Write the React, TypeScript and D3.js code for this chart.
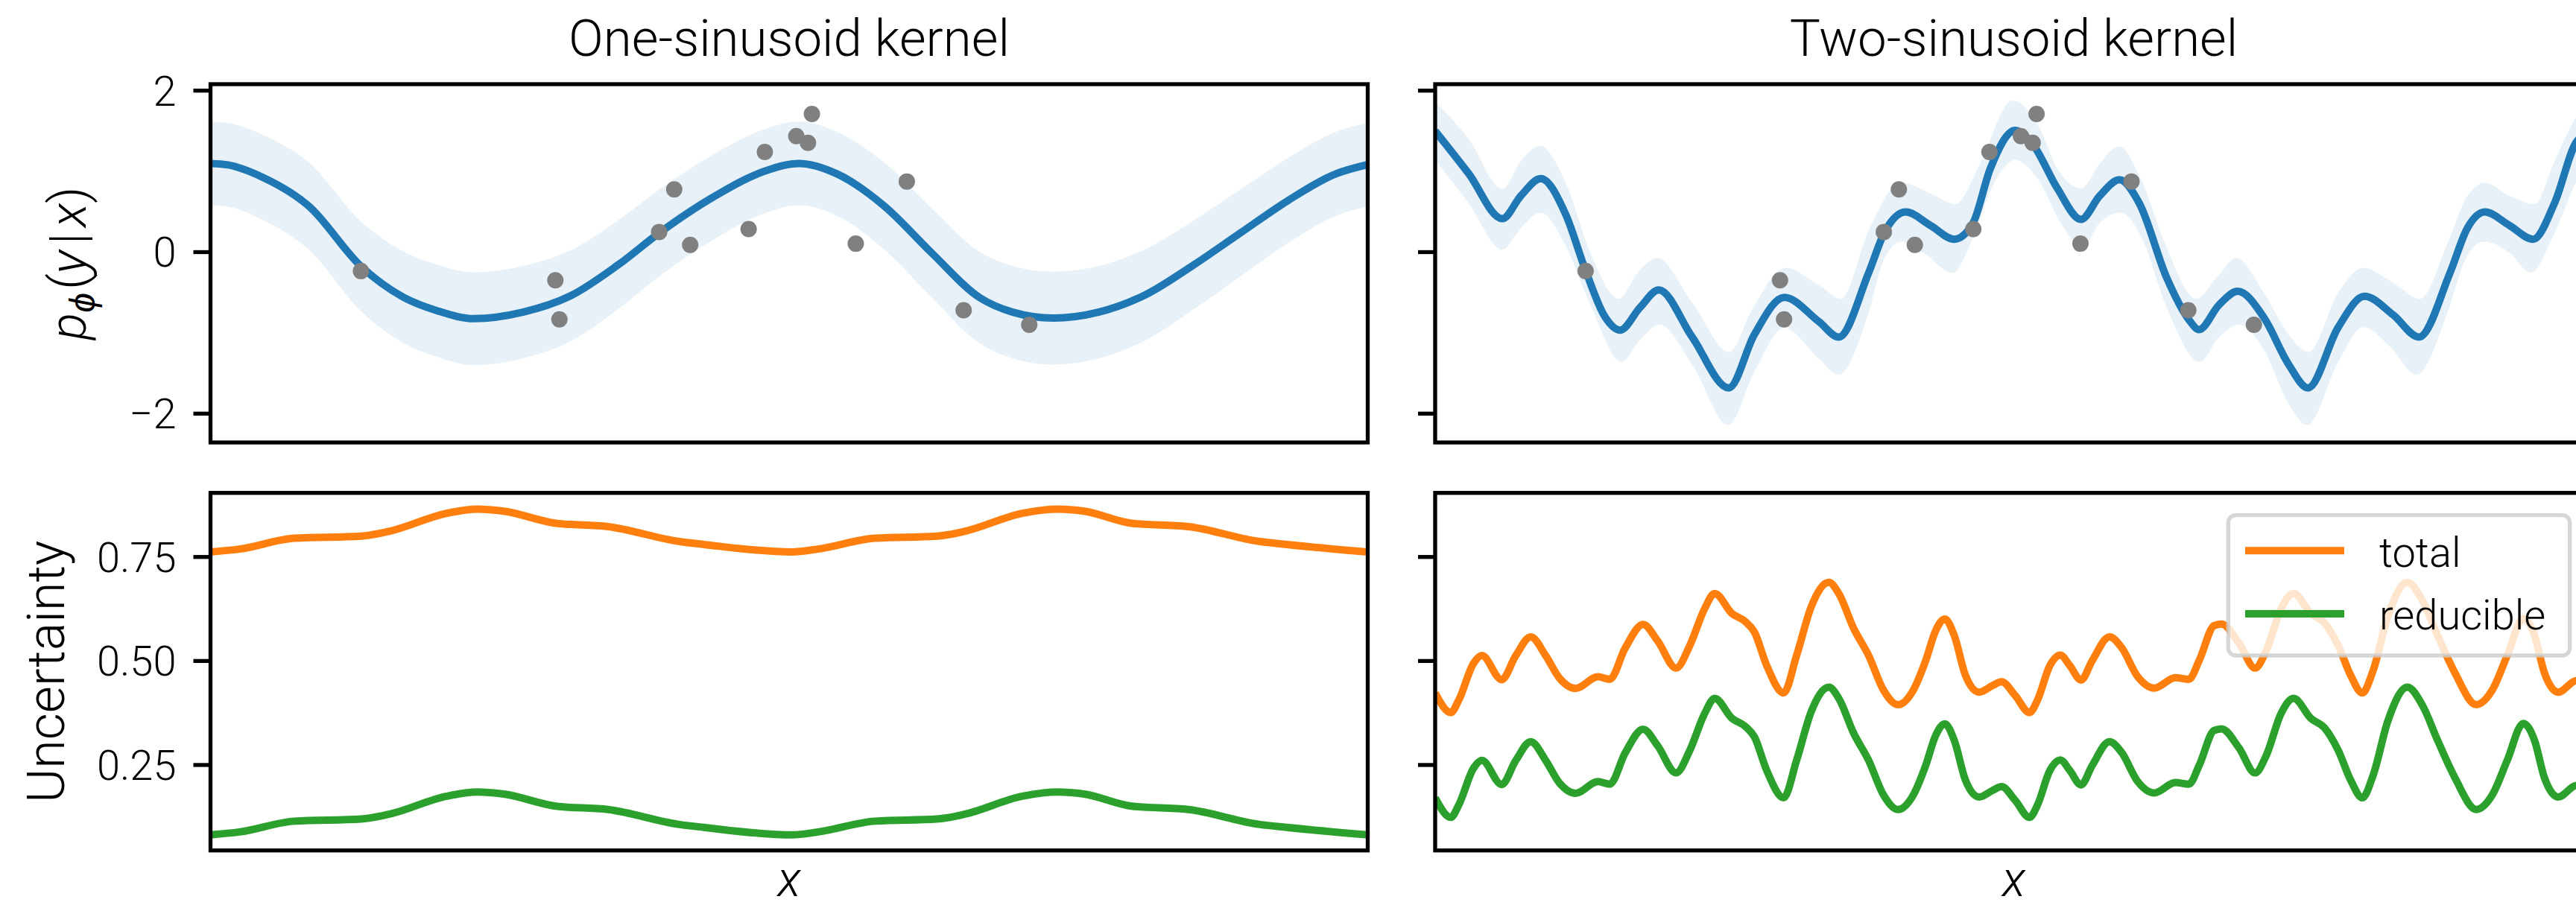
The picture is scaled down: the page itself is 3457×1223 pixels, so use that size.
import React from "react";
import * as d3 from "d3";

const W = 3457;
const H = 1223;

const titles = ["One-sinusoid kernel", "Two-sinusoid kernel"];
const topTicks = [-2, 0, 2];
const topTickLabels = ["\u22122", "0", "2"];
const bottomTicks = [0.25, 0.5, 0.75];
const bottomTickLabels = ["0.25", "0.50", "0.75"];
const legendLabels = ["total", "reducible"];

// observed points (same in both columns)
const obsX = [1.3, 2.98, 3.015, 3.877, 4.007, 4.145, 4.65, 4.79, 5.062, 5.163, 5.197, 5.576, 6.017, 6.508, 7.075];
const obsY = [-0.234, -0.349, -0.833, 0.25, 0.777, 0.09, 0.285, 1.24, 1.436, 1.353, 1.711, 0.105, 0.875, -0.72, -0.9];

// one-sinusoid kernel: posterior mean and band
const oneX = [0, 0.151, 0.44, 0.85, 1.302, 1.671, 1.959, 2.275, 2.698, 3.109, 3.519, 3.881, 4.341, 4.798, 5.085, 5.413, 5.824, 6.235, 6.645, 6.933, 7.282, 7.672, 8.083, 8.493, 8.903, 9.314, 9.725, 10];
const oneMean = [1.098, 1.08, 0.934, 0.569, -0.178, -0.562, -0.726, -0.824, -0.744, -0.543, -0.161, 0.241, 0.679, 1.007, 1.098, 0.97, 0.569, -0.014, -0.562, -0.744, -0.817, -0.744, -0.525, -0.161, 0.241, 0.642, 0.97, 1.085];
const oneUpper = [1.616, 1.598, 1.459, 1.109, 0.378, 0.004, -0.154, -0.249, -0.172, 0.02, 0.389, 0.779, 1.206, 1.527, 1.616, 1.49, 1.109, 0.539, 0.004, -0.172, -0.242, -0.172, 0.038, 0.389, 0.779, 1.169, 1.49, 1.603];
const oneLower = [0.58, 0.562, 0.409, 0.029, -0.734, -1.128, -1.298, -1.399, -1.316, -1.106, -0.711, -0.297, 0.152, 0.487, 0.58, 0.45, 0.029, -0.567, -1.128, -1.316, -1.392, -1.316, -1.088, -0.711, -0.297, 0.115, 0.45, 0.567];

// two-sinusoid kernel: posterior mean and band
const twoMeanX = [0, 0.29, 0.58, 0.74, 0.912, 1.127, 1.299, 1.47, 1.599, 1.771, 1.932, 2.221, 2.537, 2.758, 3.016, 3.316, 3.488, 3.746, 3.885, 4.067, 4.282, 4.486, 4.647, 4.797, 5.012, 5.162, 5.377, 5.581, 5.742, 5.913, 6.085, 6.321, 6.515, 6.6, 6.774, 6.935, 7.16, 7.375, 7.542, 7.804, 8.03, 8.277, 8.502, 8.77, 8.92, 9.071, 9.285, 9.489, 9.672, 9.865, 10];
const twoMean = [1.5, 0.972, 0.414, 0.696, 0.911, 0.47, -0.224, -0.807, -0.966, -0.684, -0.469, -1.052, -1.681, -1.021, -0.561, -0.86, -1.052, -0.255, 0.252, 0.497, 0.328, 0.16, 0.359, 1.034, 1.509, 1.34, 0.788, 0.405, 0.696, 0.896, 0.604, -0.316, -0.84, -0.96, -0.653, -0.485, -0.807, -1.39, -1.681, -0.929, -0.546, -0.776, -1.052, -0.255, 0.298, 0.497, 0.328, 0.16, 0.604, 1.371, 1.5];
const twoUpperX = [0, 0.29, 0.58, 0.74, 0.906, 1.127, 1.341, 1.588, 1.749, 1.917, 2.221, 2.543, 2.737, 3.026, 3.316, 3.509, 3.746, 4.024, 4.282, 4.497, 4.69, 4.99, 5.205, 5.377, 5.581, 5.742, 5.909, 6.106, 6.321, 6.575, 6.753, 6.924, 7.16, 7.375, 7.547, 7.804, 8.019, 8.277, 8.513, 8.749, 8.92, 9.071, 9.285, 9.5, 9.672, 9.865, 10];
const twoUpper = [1.862, 1.402, 0.782, 1.126, 1.316, 0.86, -0.009, -0.577, -0.255, -0.071, -0.623, -1.236, -0.715, -0.193, -0.408, -0.577, 0.267, 0.859, 0.727, 0.595, 1.034, 1.877, 1.586, 1.034, 0.788, 1.095, 1.31, 0.88, 0.052, -0.577, -0.316, -0.071, -0.5, -1.021, -1.236, -0.5, -0.193, -0.377, -0.577, 0.113, 0.696, 0.859, 0.696, 0.595, 1.126, 1.678, 1.862];
const twoLowerX = [0, 0.29, 0.58, 0.74, 0.912, 1.127, 1.341, 1.61, 1.771, 1.938, 2.221, 2.533, 2.758, 3.016, 3.316, 3.484, 3.746, 3.874, 4.024, 4.218, 4.471, 4.647, 4.818, 5.012, 5.205, 5.42, 5.591, 5.742, 5.924, 6.106, 6.321, 6.606, 6.774, 6.946, 7.16, 7.375, 7.536, 7.804, 8.019, 8.255, 8.48, 8.749, 8.899, 9.06, 9.285, 9.467, 9.672, 9.865, 10];
const twoLower = [1.141, 0.604, 0.028, 0.298, 0.488, 0.08, -0.653, -1.359, -1.083, -0.899, -1.39, -2.141, -1.482, -0.936, -1.32, -1.518, -0.745, -0.101, 0.129, -0.009, -0.255, 0.175, 0.819, 1.141, 0.911, 0.328, 0.052, 0.359, 0.488, 0.175, -0.684, -1.359, -1.052, -0.899, -1.206, -1.88, -2.141, -1.359, -0.929, -1.175, -1.518, -0.745, -0.101, 0.129, -0.009, -0.255, 0.236, 0.88, 1.141];

// uncertainty, one-sinusoid
const oneUncX = [0, 0.25, 0.727, 1.302, 1.549, 2.041, 2.308, 2.534, 2.986, 3.437, 4.053, 4.263, 5.023, 5.25, 5.742, 6.275, 6.522, 7.015, 7.323, 7.55, 7.96, 8.451, 9.068, 9.3, 10];
const oneTotal = [0.762, 0.769, 0.795, 0.8, 0.812, 0.855, 0.865, 0.86, 0.831, 0.823, 0.787, 0.78, 0.762, 0.769, 0.795, 0.8, 0.812, 0.855, 0.865, 0.86, 0.831, 0.823, 0.787, 0.78, 0.762];
const oneReducible = [0.082, 0.089, 0.115, 0.12, 0.132, 0.175, 0.185, 0.18, 0.151, 0.143, 0.107, 0.1, 0.082, 0.089, 0.115, 0.12, 0.132, 0.175, 0.185, 0.18, 0.151, 0.143, 0.107, 0.1, 0.082];

// uncertainty, two-sinusoid
const twoUncX = [0, 0.135, 0.204, 0.333, 0.404, 0.575, 0.697, 0.826, 0.955, 1.073, 1.213, 1.406, 1.509, 1.642, 1.797, 1.921, 2.082, 2.2, 2.329, 2.415, 2.565, 2.683, 2.758, 2.865, 3.011, 3.123, 3.252, 3.402, 3.488, 3.617, 3.746, 3.874, 3.999, 4.132, 4.239, 4.325, 4.404, 4.486, 4.583, 4.701, 4.818, 4.894, 5.012, 5.136, 5.205, 5.312, 5.402, 5.484, 5.581, 5.678, 5.827, 5.935, 6.064, 6.214, 6.396, 6.514, 6.602, 6.731, 6.795, 6.946, 7.085, 7.182, 7.31, 7.418, 7.568, 7.686, 7.804, 7.912, 8.012, 8.105, 8.234, 8.401, 8.534, 8.663, 8.813, 8.996, 9.135, 9.264, 9.403, 9.5, 9.586, 9.704, 9.865, 10];
const twoTotal = [0.423, 0.376, 0.406, 0.495, 0.513, 0.455, 0.513, 0.558, 0.513, 0.459, 0.434, 0.462, 0.456, 0.531, 0.588, 0.549, 0.483, 0.537, 0.626, 0.662, 0.614, 0.594, 0.57, 0.489, 0.423, 0.513, 0.632, 0.689, 0.662, 0.578, 0.513, 0.43, 0.395, 0.43, 0.501, 0.573, 0.601, 0.561, 0.465, 0.425, 0.441, 0.45, 0.417, 0.376, 0.406, 0.489, 0.514, 0.489, 0.454, 0.501, 0.558, 0.531, 0.465, 0.435, 0.46, 0.456, 0.501, 0.585, 0.589, 0.543, 0.483, 0.525, 0.626, 0.662, 0.614, 0.591, 0.537, 0.465, 0.423, 0.477, 0.609, 0.689, 0.644, 0.561, 0.471, 0.395, 0.43, 0.513, 0.602, 0.561, 0.471, 0.425, 0.453, 0.42];
const twoReducible = [0.171, 0.124, 0.154, 0.243, 0.261, 0.203, 0.261, 0.306, 0.261, 0.207, 0.182, 0.21, 0.204, 0.279, 0.336, 0.297, 0.231, 0.285, 0.374, 0.41, 0.362, 0.342, 0.318, 0.237, 0.171, 0.261, 0.38, 0.437, 0.41, 0.326, 0.261, 0.178, 0.143, 0.178, 0.249, 0.321, 0.349, 0.309, 0.213, 0.173, 0.189, 0.198, 0.165, 0.124, 0.154, 0.237, 0.262, 0.237, 0.202, 0.249, 0.306, 0.279, 0.213, 0.183, 0.208, 0.204, 0.249, 0.333, 0.337, 0.291, 0.231, 0.273, 0.374, 0.41, 0.362, 0.339, 0.285, 0.213, 0.171, 0.225, 0.357, 0.437, 0.392, 0.309, 0.219, 0.143, 0.178, 0.261, 0.35, 0.309, 0.219, 0.173, 0.201, 0.168];

const BLUE = "#1f77b4";
const ORANGE = "#ff7f0e";
const GREEN = "#2ca02c";
const FONT = "Roboto, sans-serif";

const colLeft = [282.5, 1926];
const colWidth = 1553;
const topRow = { top: 113, bottom: 594 };
const botRow = { top: 661.7, bottom: 1141.7 };
const LW = 5.3;
const TICK = 23;

const yTop = d3.scaleLinear().domain([-2.357, 2.08]).range([topRow.bottom, topRow.top]);
const yBot = d3.scaleLinear().domain([0.0446, 0.904]).range([botRow.bottom, botRow.top]);

const mkLine = (sx: any, sy: any) =>
  d3
    .line<[number, number]>()
    .x((d) => sx(d[0]))
    .y((d) => sy(d[1]))
    .curve(d3.curveMonotoneX);

// closed band: upper edge left->right, lower edge right->left
function bandPath(sx: any, sy: any, xu: number[], yu: number[], xl: number[], yl: number[]) {
  const line = mkLine(sx, sy);
  const up = line(d3.zip(xu, yu) as [number, number][]) || "";
  const lo = line((d3.zip(xl, yl) as [number, number][]).reverse()) || "";
  return up + "L" + lo.slice(1) + "Z";
}

function Frame({ left, row, ticks, sy }: any) {
  return (
    <g>
      <rect x={left} y={row.top} width={colWidth} height={row.bottom - row.top} fill="none" stroke="#000" strokeWidth={LW} />
      {ticks.map((t: number) => (
        <line key={t} x1={left - TICK} x2={left} y1={sy(t)} y2={sy(t)} stroke="#000" strokeWidth={LW} />
      ))}
    </g>
  );
}

export default function App() {
  document.body.style.margin = "0";
  document.body.style.overflow = "hidden";

  const posterior = [
    { mx: oneX, my: oneMean, ux: oneX, uy: oneUpper, lx: oneX, ly: oneLower },
    { mx: twoMeanX, my: twoMean, ux: twoUpperX, uy: twoUpper, lx: twoLowerX, ly: twoLower },
  ];
  const uncertainty = [
    { x: oneUncX, total: oneTotal, red: oneReducible },
    { x: twoUncX, total: twoTotal, red: twoReducible },
  ];

  return (
    <svg width={W} height={H} style={{ position: "absolute", left: 0, top: 0, display: "block", background: "#fff" }} fontFamily={FONT} fontWeight={300}>
      <defs>
        {colLeft.map((l, i) => (
          <React.Fragment key={i}>
            <clipPath id={`clipT${i}`}>
              <rect x={l} y={topRow.top} width={colWidth} height={topRow.bottom - topRow.top} />
            </clipPath>
            <clipPath id={`clipB${i}`}>
              <rect x={l} y={botRow.top} width={colWidth} height={botRow.bottom - botRow.top} />
            </clipPath>
          </React.Fragment>
        ))}
      </defs>

      {colLeft.map((left, i) => {
        const sx = d3.scaleLinear().domain([0, 10]).range([left, left + colWidth]);
        const p = posterior[i];
        const u = uncertainty[i];
        const cx = left + colWidth / 2;
        const lineT = mkLine(sx, yTop);
        const lineB = mkLine(sx, yBot);
        return (
          <g key={i}>
            <text x={cx} y={75} textAnchor="middle" fontSize={69}>
              {titles[i]}
            </text>

            <g clipPath={`url(#clipT${i})`}>
              <path d={bandPath(sx, yTop, p.ux, p.uy, p.lx, p.ly)} fill={BLUE} fillOpacity={0.1} stroke="none" />
              <path d={lineT(d3.zip(p.mx, p.my) as [number, number][]) || ""} fill="none" stroke={BLUE} strokeWidth={10} />
              {obsX.map((x, k) => (
                <circle key={k} cx={sx(x)} cy={yTop(obsY[k])} r={11} fill="#808080" />
              ))}
            </g>
            <Frame left={left} row={topRow} ticks={topTicks} sy={yTop} />

            <g clipPath={`url(#clipB${i})`}>
              <path d={lineB(d3.zip(u.x, u.total) as [number, number][]) || ""} fill="none" stroke={ORANGE} strokeWidth={10} />
              <path d={lineB(d3.zip(u.x, u.red) as [number, number][]) || ""} fill="none" stroke={GREEN} strokeWidth={10} />
            </g>
            <Frame left={left} row={botRow} ticks={bottomTicks} sy={yBot} />

            <text x={cx} y={1203} textAnchor="middle" fontSize={66} fontStyle="italic">
              x
            </text>
          </g>
        );
      })}

      {topTicks.map((t, k) => (
        <text key={t} x={colLeft[0] - TICK - 23} y={yTop(t) + 19.9} textAnchor="end" fontSize={56}>
          {topTickLabels[k]}
        </text>
      ))}
      {bottomTicks.map((t, k) => (
        <text key={t} x={colLeft[0] - TICK - 23} y={yBot(t) + 19.9} textAnchor="end" fontSize={56}>
          {bottomTickLabels[k]}
        </text>
      ))}

      <text transform={`translate(115,${(topRow.top + topRow.bottom) / 2}) rotate(-90)`} textAnchor="middle" fontSize={68}>
        <tspan fontStyle="italic">p</tspan>
        <tspan fontStyle="italic" fontSize={48} dy={12}>ϕ</tspan>
        <tspan dy={-12} dx={4}>(</tspan>
        <tspan fontStyle="italic">y</tspan>
        <tspan dx={8}>|</tspan>
        <tspan fontStyle="italic" dx={8}>x</tspan>
        <tspan>)</tspan>
      </text>
      <text transform={`translate(86,${(botRow.top + botRow.bottom) / 2}) rotate(-90)`} textAnchor="middle" fontSize={70}>
        Uncertainty
      </text>

      <g>
        <rect x={2990.3} y={691.7} width={458.4} height={188.3} rx={10} fill="#fff" fillOpacity={0.8} stroke="#cccccc" strokeOpacity={0.8} strokeWidth={LW} />
        {[ORANGE, GREEN].map((c, k) => (
          <g key={c}>
            <line x1={3013} x2={3146} y1={739.3 + k * 84.7} y2={739.3 + k * 84.7} stroke={c} strokeWidth={10} />
            <text x={3193} y={760.7 + k * 84.3} fontSize={56}>
              {legendLabels[k]}
            </text>
          </g>
        ))}
      </g>
    </svg>
  );
}
